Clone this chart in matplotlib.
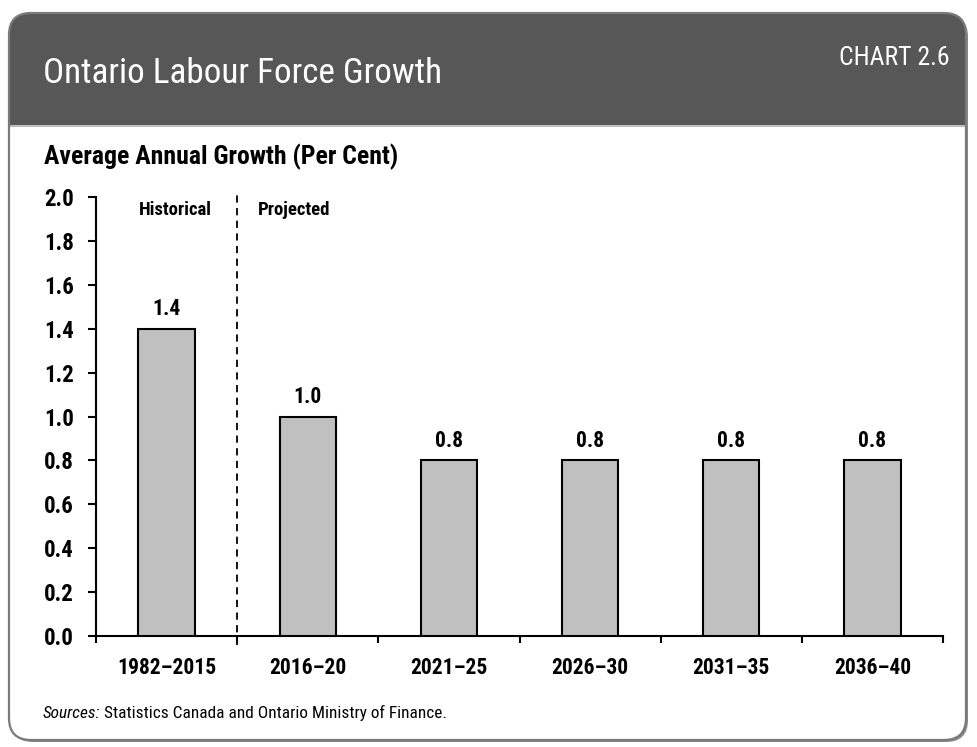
import os
import matplotlib
matplotlib.use("Agg")
import matplotlib.pyplot as plt
from matplotlib.patches import FancyBboxPatch, Rectangle
from matplotlib import font_manager
from matplotlib.font_manager import FontProperties

categories = ["1982\u20132015", "2016\u201320", "2021\u201325", "2026\u201330", "2031\u201335", "2036\u201340"]
values = [1.4, 1.0, 0.8, 0.8, 0.8, 0.8]
value_labels = ["1.4", "1.0", "0.8", "0.8", "0.8", "0.8"]
yticks = [0.0, 0.2, 0.4, 0.6, 0.8, 1.0, 1.2, 1.4, 1.6, 1.8, 2.0]

# ---- font selection: prefer a narrow sans ----
files = {os.path.basename(f.fname).lower(): f.fname for f in font_manager.fontManager.ttflist}
def find(*cands):
    for c in cands:
        if c.lower() in files:
            return files[c.lower()]
    return None

sets = [
    ("LiberationSansNarrow-Regular.ttf", "LiberationSansNarrow-Bold.ttf", "LiberationSansNarrow-Italic.ttf"),
    ("RobotoCondensed-Regular.ttf", "RobotoCondensed-Bold.ttf", "RobotoCondensed-Italic.ttf"),
    ("DejaVuSansCondensed.ttf", "DejaVuSansCondensed-Bold.ttf", "DejaVuSansCondensed-Oblique.ttf"),
    ("LiberationSans-Regular.ttf", "LiberationSans-Bold.ttf", "LiberationSans-Italic.ttf"),
]
REG = BOLD = ITAL = None
for r_, b_, i_ in sets:
    fr, fb = find(r_), find(b_)
    if fr and fb:
        REG, BOLD, ITAL = fr, fb, find(i_) or fr
        break

def fp(kind, size):
    path = {"r": REG, "b": BOLD, "i": ITAL}[kind]
    if path is None:
        return FontProperties(family="DejaVu Sans", size=size,
                              weight="bold" if kind == "b" else "normal",
                              style="italic" if kind == "i" else "normal")
    return FontProperties(fname=path, size=size)

W, H = 977, 747
fig = plt.figure(figsize=(W / 100, H / 100), dpi=100)

# background panel axes in pixel coordinates
bg = fig.add_axes([0, 0, 1, 1], zorder=0)
bg.set_xlim(0, W)
bg.set_ylim(H, 0)
bg.axis("off")

x0, y0, x1, y1 = 9, 13, 966, 740
r = 22
bg.add_patch(FancyBboxPatch((x0 + r + 2, y0 + r + 2), (x1 - x0) - 2 * r, (y1 - y0) - 2 * r,
                            boxstyle=f"round,pad={r}", fc="#8a8a8a", ec="none", zorder=1))
bg.add_patch(FancyBboxPatch((x0 + r, y0 + r), (x1 - x0) - 2 * r, (y1 - y0) - 2 * r,
                            boxstyle=f"round,pad={r}", fc="white", ec="none", zorder=2))
hdr = FancyBboxPatch((x0 + r, y0 + r), (x1 - x0) - 2 * r, 160 - 2 * r,
                     boxstyle=f"round,pad={r}", fc="#575757", ec="none", zorder=3)
bg.add_patch(hdr)
hdr.set_clip_path(Rectangle((0, 0), W, 125, transform=bg.transData))
bg.plot([x0, x1], [125.5, 125.5], color="#bdbdbd", lw=1.5, zorder=4)
bg.add_patch(FancyBboxPatch((x0 + r, y0 + r), (x1 - x0) - 2 * r, (y1 - y0) - 2 * r,
                            boxstyle=f"round,pad={r}", fc="none", ec="#7a7a7a", lw=1.6, zorder=5))

bg.text(43, 83, "Ontario Labour Force Growth", color="white", fontproperties=fp("r", 25.3),
        va="baseline", ha="left", zorder=6)
bg.text(950, 65, "CHART 2.6", color="white", fontproperties=fp("r", 18.5),
        va="baseline", ha="right", zorder=6)
bg.text(44, 164, "Average Annual Growth (Per Cent)", color="black", fontproperties=fp("b", 18.5),
        va="baseline", ha="left", zorder=6)
t = bg.text(43, 718, "Sources:", fontproperties=fp("i", 12.4), va="baseline", ha="left", zorder=6)
fig.canvas.draw()
bb = t.get_window_extent()
bg.text(bb.x1 + 3, 718, "Statistics Canada and Ontario Ministry of Finance.", fontproperties=fp("r", 12.4),
        va="baseline", ha="left", zorder=6)

# main chart axes
left, right = 96 / W, 943 / W
bottom, top = (H - 636) / H, (H - 197) / H
ax = fig.add_axes([left, bottom, right - left, top - bottom], zorder=2)
ax.patch.set_alpha(0)

xs = list(range(len(categories)))
ax.bar(xs, values, width=0.4, color="#c0c0c0", edgecolor="black", linewidth=1.5, zorder=3)
for x, v, lab in zip(xs, values, value_labels):
    ax.annotate(lab, (x, v), xytext=(0, 6), textcoords="offset points", ha="center",
                va="bottom", fontproperties=fp("b", 15.5))

ax.set_xlim(-0.5, len(categories) - 0.5)
ax.set_ylim(0, 2.0)
ax.set_yticks(yticks)
ax.set_yticklabels([f"{v:.1f}" for v in yticks])
for lbl in ax.get_yticklabels():
    lbl.set_fontproperties(fp("b", 16.5))
ax.set_xticks(xs)
ax.set_xticklabels(categories)
for lbl in ax.get_xticklabels():
    lbl.set_fontproperties(fp("b", 15.5))
ax.tick_params(axis="x", which="major", length=0, pad=15)
ax.set_xticks([i - 0.5 for i in range(len(categories) + 1)], minor=True)
ax.tick_params(axis="x", which="minor", length=5, width=1.5, direction="out")
ax.tick_params(axis="y", length=6, width=1.5, direction="out", pad=10)
for s in ["top", "right"]:
    ax.spines[s].set_visible(False)
for s in ["left", "bottom"]:
    ax.spines[s].set_linewidth(1.5)

ax.plot([0.5, 0.5], [-0.04, 2.02], color="black", lw=1.3, ls=(0, (4, 3)), clip_on=False, zorder=4)
ax.text(0.06, 1.94, "Historical", ha="center", va="center", fontproperties=fp("b", 13.5))
ax.text(0.65, 1.94, "Projected", ha="left", va="center", fontproperties=fp("b", 13.5))

fig.savefig("out.png", dpi=100)
